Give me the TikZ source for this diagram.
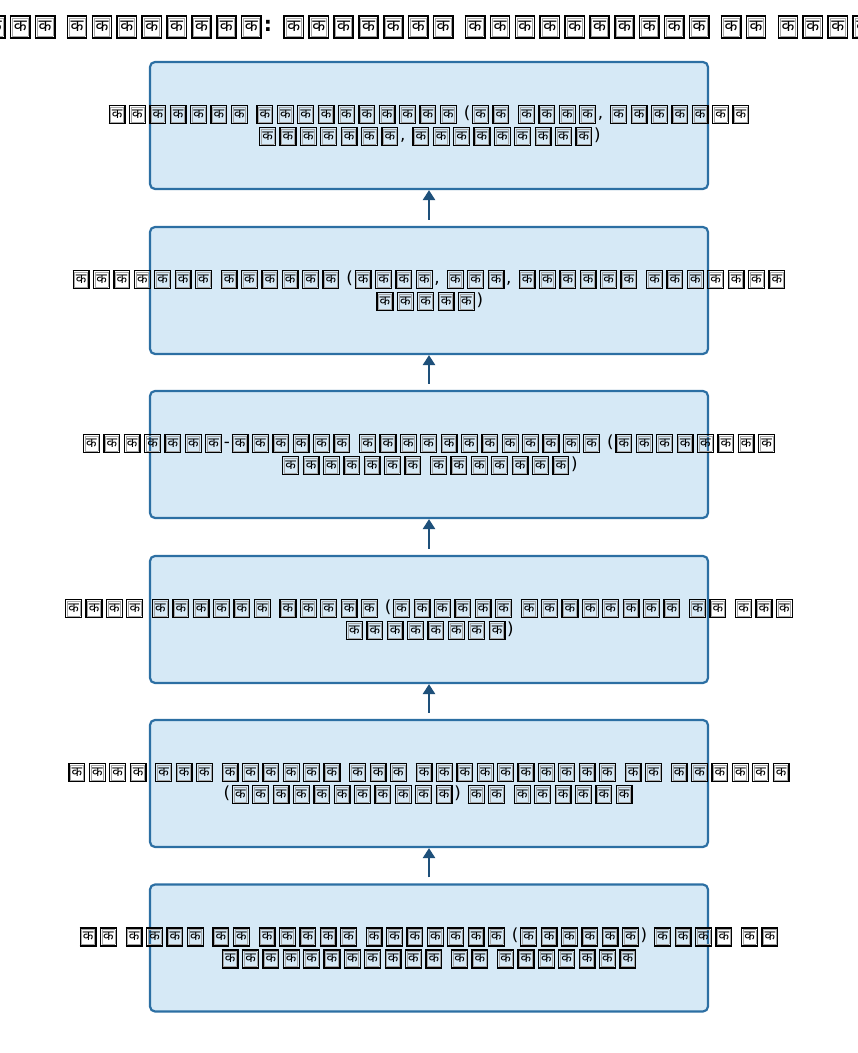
\documentclass[tikz,border=0pt]{standalone}
\usepackage{fontspec}
\usepackage{graphicx}
\usetikzlibrary{arrows.meta}
\setmainfont{DejaVu Sans}
\newfontfamily\devfont[Script=Devanagari]{Noto Sans}
\definecolor{boxfill}{RGB}{214,233,246}
\definecolor{boxline}{RGB}{44,111,163}
\definecolor{arrowcol}{RGB}{30,80,122}
\newcommand\tofubox{\kern0.1em\relax{\fboxrule=0.075em\relax\fboxsep=0.035em\relax\fbox{\fboxrule=0.035em\relax\fboxsep=0.05em\relax\color{gray!70}\fbox{\color{black}\makebox[0.63em][c]{\rule[-0.16em]{0pt}{0.75em}\scalebox{0.82}{\devfont\char"0915\relax}}}}}\kern0.1em\relax}
\begingroup
\catcode`\क=\active
\gdef क{\tofubox}
\endgroup
\catcode`\क=\active
\tikzset{
  stagebox/.style={draw=boxline, fill=boxfill, line width=2.2pt, rounded corners=5pt,
    minimum width=558pt, minimum height=127pt, inner sep=0pt},
  stagetext/.style={align=center, inner sep=0pt, font=\fontsize{16.7}{22}\selectfont},
  titletext/.style={font=\fontsize{20.4}{24}\selectfont\bfseries, inner sep=0pt},
  uparrow/.style={draw=arrowcol, line width=2.8pt, -{Triangle[length=10pt,width=12pt]}}
}
\begin{document}
\begin{tikzpicture}[x=1pt,y=1pt]
\useasboundingbox (0,0) rectangle (858,1053);
\node[titletext] (title) at (429,1026) {ककक कककककककक: ककककककक कककककककककक कक कककक};
\node[stagebox] (b1) at (429,927.5) {};
\node[stagebox] (b2) at (429,762.5) {};
\node[stagebox] (b3) at (429,598.5) {};
\node[stagebox] (b4) at (429,433.5) {};
\node[stagebox] (b5) at (429,269.5) {};
\node[stagebox] (b6) at (429,105) {};
\node[stagetext] (t1) at (b1.center) {ककककककक कककककककककक (कक कककक, ककककककक\\ककककककक, ककककककककक)};
\node[stagetext] (t2) at (b2.center) {ककककककक कककककक (कककक, ककक, कककककक ककककककक\\ककककक)};
\node[stagetext] (t3) at (b3.center) {ककककककक-कककककक कककककककककककक (कककककककक\\ककककककक ककककककक)};
\node[stagetext] (t4) at (b4.center) {कककक कककककक ककककक (कककककक कककककककक कक ककक\\कककककककक)};
\node[stagetext] (t5) at (b5.center) {कककक ककक कककककक ककक कककककककककक कक कककककक\\(ककककककककककक) कक कककककक};
\node[stagetext] (t6) at (b6.center) {कक कककक कक ककककक ककककककक (कककककक) कककक कक\\ककककककककककक कक ककककककक};
\draw[uparrow] ([yshift=6pt]b2.north) -- (b1.south);
\draw[uparrow] ([yshift=6pt]b3.north) -- (b2.south);
\draw[uparrow] ([yshift=6pt]b4.north) -- (b3.south);
\draw[uparrow] ([yshift=6pt]b5.north) -- (b4.south);
\draw[uparrow] ([yshift=6pt]b6.north) -- (b5.south);
\end{tikzpicture}
\end{document}
